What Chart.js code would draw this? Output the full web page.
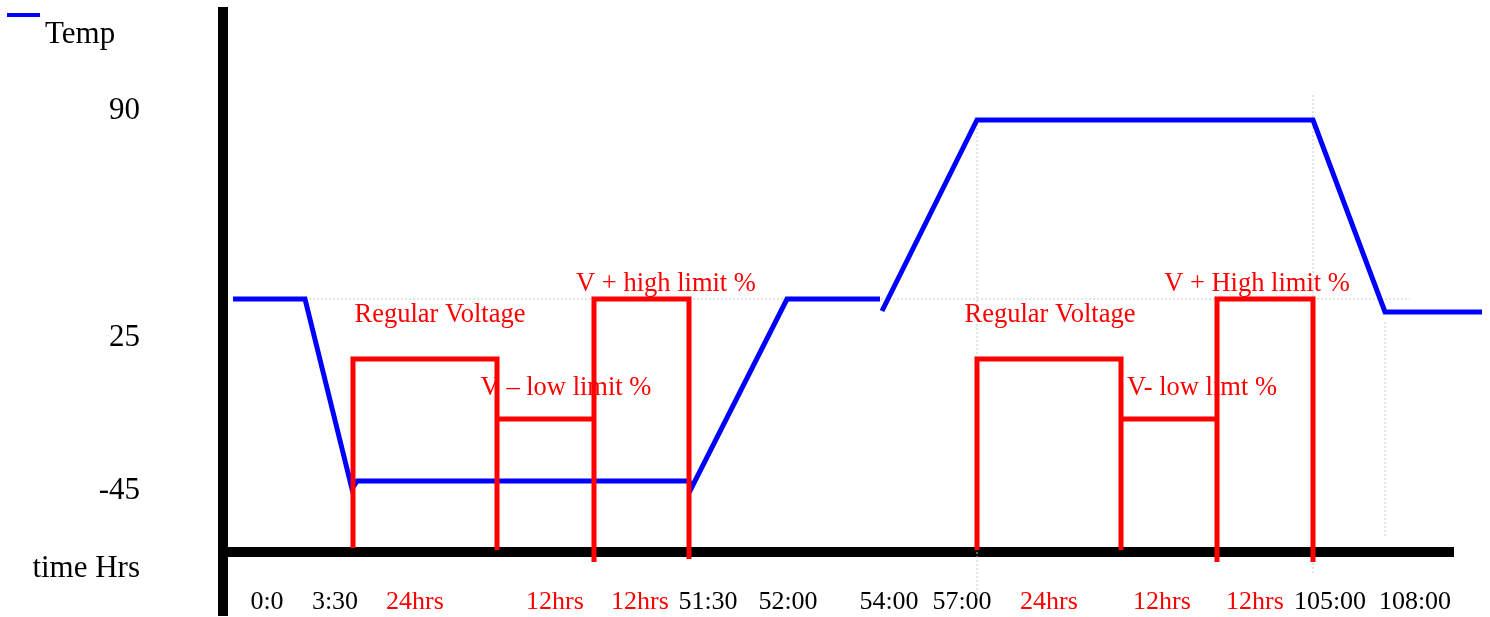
<!DOCTYPE html>
<html lang="en">
<head>
    <meta charset="UTF-8">
    <title>Temp / voltage profile</title>
    <script src="https://cdn.jsdelivr.net/npm/chart.js"></script>
    <style>
        body { margin: 0; background: #fff; }
    </style>
</head>
<body>
    <canvas id="myChart" width="1490" height="617"></canvas>

    <script>
        // schematic units: x = position along time axis, y = level above chart bottom
        const tempX = [9, 81, 128, 133, 465, 467, 563, 656, 657, 658, 753, 1089, 1161, 1258];
        const tempY = [316, 316, 126, 134, 134, 126, 316, 316, null, 304, 495, 495, 303, 303];

        const volt1X = [129, 129, 273, 273, 273, 370, 370, 370, 465, 465];
        const volt1Y = [67, 256, 256, 65, 196, 196, 53, 316, 316, 56];
        const volt2X = [753, 753, 897, 897, 897, 993, 993, 993, 1089, 1089];
        const volt2Y = [65, 256, 256, 65, 196, 196, 53, 316, 316, 53];

        const guideX = [9, 1186, 1186, 753, 753, 753, 1089, 1089, 1089, 1161, 1161];
        const guideY = [316, 316, null, 495, 15, null, 520, 40, null, 293, 77];

        const xTickVals = [43, 111, 191, 331, 416, 484, 564, 665, 738, 825, 938, 1031, 1106, 1191];
        const xTickLabels = ['0:0', '3:30', '24hrs', '12hrs', '12hrs', '51:30', '52:00', '54:00', '57:00', '24hrs', '12hrs', '12hrs', '105:00', '108:00'];

        const yTickVals = [504, 277, 124, 46];
        const yTickLabels = ['90', '25', '-45', 'time Hrs'];

        const noteTexts = ['Regular Voltage', 'V \u2013 low limit %', 'V + high limit %', 'Regular Voltage', 'V- low limt %', 'V + High limit %'];
        const noteX = [216, 342, 442, 826, 978, 1033];
        const noteY = [300, 227, 331, 300, 227, 331];

        const toPoints = (xs, ys) => xs.map((x, i) => ({ x: x, y: ys[i] }));

        const font = 'Liberation Serif';
        const red = '#ff0000';
        const blue = '#0000ff';

        const notesPlugin = {
            id: 'notes',
            afterDatasetsDraw(chart) {
                const ctx = chart.ctx;
                const xs = chart.scales.x, ys = chart.scales.y;
                ctx.save();
                ctx.font = '26.5px "' + font + '"';
                ctx.fillStyle = red;
                ctx.textAlign = 'center';
                ctx.textBaseline = 'middle';
                noteTexts.forEach((t, i) => {
                    ctx.fillText(t, xs.getPixelForValue(noteX[i]), ys.getPixelForValue(noteY[i]));
                });
                // legend
                const ds = chart.data.datasets[0];
                ctx.strokeStyle = ds.borderColor;
                ctx.lineWidth = 4;
                ctx.beginPath();
                ctx.moveTo(7, 15);
                ctx.lineTo(40, 15);
                ctx.stroke();
                ctx.font = '31px "' + font + '"';
                ctx.fillStyle = '#000';
                ctx.textAlign = 'left';
                ctx.textBaseline = 'alphabetic';
                ctx.fillText(ds.label, 45, 43);
                ctx.restore();
            }
        };

        const noPad = (s) => { s.paddingTop = 0; s.paddingBottom = 0; s.paddingLeft = 0; s.paddingRight = 0; };

        const ctx = document.getElementById('myChart').getContext('2d');
        new Chart(ctx, {
            type: 'line',
            data: {
                datasets: [{
                    label: 'Temp',
                    data: toPoints(tempX, tempY),
                    borderColor: blue,
                    borderWidth: 5,
                    pointRadius: 0,
                    spanGaps: false,
                    clip: false,
                    order: 1
                }, {
                    label: 'V1',
                    data: toPoints(volt1X, volt1Y),
                    borderColor: red,
                    borderWidth: 5,
                    pointRadius: 0,
                    clip: false,
                    order: 0
                }, {
                    label: 'V2',
                    data: toPoints(volt2X, volt2Y),
                    borderColor: red,
                    borderWidth: 5,
                    pointRadius: 0,
                    clip: false,
                    order: 0
                }, {
                    label: 'guides',
                    data: toPoints(guideX, guideY),
                    borderColor: '#c8c8c8',
                    borderWidth: 1,
                    borderDash: [2, 2],
                    pointRadius: 0,
                    spanGaps: false,
                    clip: false,
                    order: 2
                }]
            },
            options: {
                responsive: false,
                animation: false,
                layout: { padding: { left: 0, top: 12, right: 37, bottom: 2 } },
                plugins: {
                    legend: { display: false },
                    tooltip: { enabled: false }
                },
                scales: {
                    x: {
                        type: 'linear',
                        min: -1,
                        max: 1229,
                        position: { y: 63 },
                        grid: { display: false, drawTicks: false },
                        border: { display: true, color: '#000', width: 10 },
                        afterBuildTicks: (s) => { s.ticks = xTickVals.map(v => ({ value: v })); },
                        afterFit: (s) => { s.height = 0; noPad(s); },
                        ticks: {
                            autoSkip: false,
                            maxRotation: 0,
                            padding: 35,
                            font: { family: font, size: 26 },
                            color: (c) => xTickLabels[c.index].indexOf('hrs') >= 0 ? red : '#000',
                            callback: (v, i) => xTickLabels[i]
                        }
                    },
                    y: {
                        type: 'linear',
                        min: 0,
                        max: 603,
                        grid: { display: false, drawTicks: false },
                        border: { display: true, color: '#000', width: 10 },
                        afterBuildTicks: (s) => { s.ticks = yTickVals.map(v => ({ value: v })); },
                        afterFit: (s) => { s.width = 223; noPad(s); },
                        ticks: {
                            autoSkip: false,
                            padding: 83,
                            font: { family: font, size: 31 },
                            color: '#000',
                            callback: (v, i) => yTickLabels[i]
                        }
                    }
                }
            },
            plugins: [notesPlugin]
        });
    </script>
</body>
</html>
